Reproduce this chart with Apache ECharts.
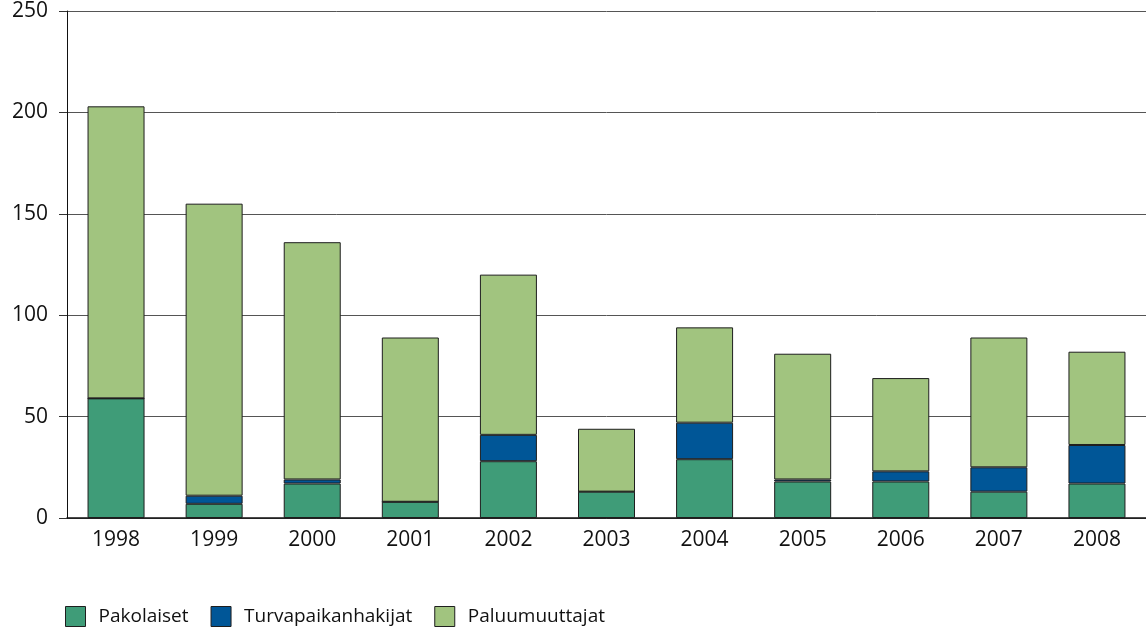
<!DOCTYPE html>
<html>
<head>
<meta charset="utf-8">
<script src="https://cdn.jsdelivr.net/npm/echarts@6/dist/echarts.min.js"></script>
<style>
  html, body { margin: 0; padding: 0; background: #fff; }
  #chart { width: 1146px; height: 627px; }
</style>
</head>
<body>
<div id="chart"></div>
<script>
const years = ["1998", "1999", "2000", "2001", "2002", "2003", "2004", "2005", "2006", "2007", "2008"];
const pakolaiset = [59, 7, 17, 8, 28, 13, 29, 18, 18, 13, 17];
const turvapaikanhakijat = [0, 4, 2, 0, 13, 0, 18, 1, 5, 12, 19];
const paluumuuttajat = [144, 144, 117, 81, 79, 31, 47, 62, 46, 64, 46];
const yTicks = [0, 50, 100, 150, 200, 250];

const font = "'Open Sans', 'Noto Sans', sans-serif";

const makeSeries = (name, data, color) => ({
  name: name,
  type: "bar",
  stack: "total",
  barWidth: 57,
  data: data,
  itemStyle: {
    color: color,
    borderColor: "#1e1e1e",
    borderWidth: 1
  }
});

const chart = echarts.init(document.getElementById("chart"));
chart.setOption({
  animation: false,
  textStyle: { fontFamily: font },
  grid: {
    left: 67,
    right: -5,
    top: 11,
    bottom: 109
  },
  legend: {
    left: 60,
    top: 601,
    itemWidth: 20,
    itemHeight: 20,
    itemGap: 22,
    icon: "rect",
    itemStyle: { borderColor: "#1e1e1e", borderWidth: 1 },
    textStyle: {
      fontFamily: font,
      fontSize: 19,
      color: "#111",
      padding: [0, 0, 0, 8]
    },
    data: ["Pakolaiset", "Turvapaikanhakijat", "Paluumuuttajat"]
  },
  xAxis: {
    type: "category",
    data: years,
    axisTick: { show: false },
    axisLine: { lineStyle: { color: "#111", width: 1.5 } },
    axisLabel: {
      color: "#111",
      fontSize: 21,
      margin: 12,
      fontFamily: font
    }
  },
  yAxis: {
    type: "value",
    min: yTicks[0],
    max: yTicks[yTicks.length - 1],
    interval: 50,
    axisLine: { show: true, lineStyle: { color: "#111", width: 1 } },
    axisTick: { show: true, length: 8, lineStyle: { color: "#333" } },
    axisLabel: {
      color: "#111",
      fontSize: 21,
      margin: 19,
      fontFamily: font
    },
    splitLine: { lineStyle: { color: "#555", width: 1 } }
  },
  series: [
    makeSeries("Pakolaiset", pakolaiset, "#3f9c78"),
    makeSeries("Turvapaikanhakijat", turvapaikanhakijat, "#005697"),
    makeSeries("Paluumuuttajat", paluumuuttajat, "#a1c47f")
  ]
});
</script>
</body>
</html>
